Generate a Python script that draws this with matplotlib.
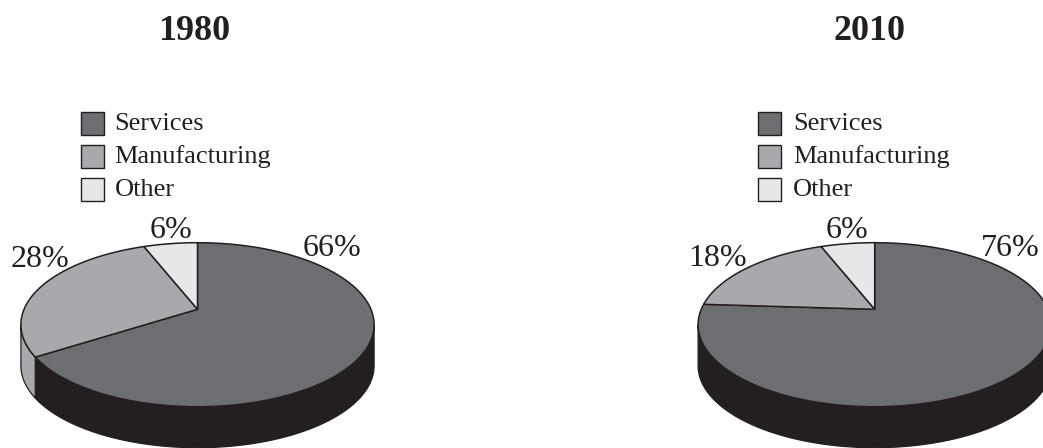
#!/usr/bin/env python3
"""Two tilted pie charts: employment shares, 1980 and 2010."""

import numpy as np
import matplotlib
matplotlib.use("Agg")
import matplotlib.pyplot as plt
from matplotlib.patches import Polygon, Rectangle

# data
years = ["1980", "2010"]
categories = ["Services", "Manufacturing", "Other"]
shares_1980 = [66, 28, 6]
shares_2010 = [76, 18, 6]

TOP_COLORS = ["#6d6e71", "#a7a9ac", "#e6e7e8"]
WALL_COLORS = ["#231f20", "#a7a9ac", "#e6e7e8"]
EDGE = "#231f20"

# pie geometry, in pixels of the 1043x448 picture
RX, RY = 176.6, 82.0
CY = 324.7
APEX_Y = 309.3
DEPTH = 41.0

plt.rcParams["font.family"] = ["Liberation Serif", "DejaVu Serif"]

fig = plt.figure(figsize=(10.43, 4.48), dpi=100)
ax = fig.add_axes([0, 0, 1, 1])
ax.set_xlim(0, 1043)
ax.set_ylim(448, 0)
ax.axis("off")


def rim(cx, t, drop=0.0):
    """Point on the top ellipse; t is in degrees, clockwise from the top."""
    r = np.radians(t)
    return np.column_stack([cx + RX * np.sin(r), CY + drop - RY * np.cos(r)])


def draw_pie(cx, values):
    offset = (CY - APEX_Y) / RY
    # wedge angles are true at the apex, which sits above the ellipse centre
    theta = np.radians(np.cumsum([0] + list(values)) * 3.6)
    edges = np.degrees(theta - np.arcsin(offset * np.sin(theta)))

    # side wall first, only the front half (90..270) shows
    for i in range(len(values)):
        t0, t1 = max(edges[i], 90), min(edges[i + 1], 270)
        if t1 <= t0:
            continue
        t = np.linspace(t0, t1, 150)
        pts = np.vstack([rim(cx, t), rim(cx, t[::-1], DEPTH)])
        ax.add_patch(Polygon(pts, closed=True, facecolor=WALL_COLORS[i], edgecolor=EDGE, linewidth=0.9))

    # top face
    for i in range(len(values)):
        t = np.linspace(edges[i], edges[i + 1], 200)
        pts = np.vstack([[[cx, APEX_Y]], rim(cx, t)])
        ax.add_patch(Polygon(pts, closed=True, facecolor=TOP_COLORS[i], edgecolor=EDGE,
                             linewidth=1.1, joinstyle="miter"))


def draw_legend(x_box, x_text):
    for i, name in enumerate(categories):
        y = 112.5 + 33 * i
        ax.add_patch(Rectangle((x_box, y), 23, 22.5, facecolor=TOP_COLORS[i], edgecolor=EDGE, linewidth=1.0))
        ax.text(x_text, y + 17, name, fontsize=19, color=EDGE, ha="left", va="baseline")


def label(x, y, value):
    ax.text(x, y, f"{value}%", fontsize=23, color=EDGE, ha="center", va="baseline")


# 1980
ax.text(194, 40, years[0], fontsize=26, fontweight="bold", color=EDGE, ha="center", va="baseline")
draw_legend(80.5, 114.5)
draw_pie(197.5, shares_1980)
label(332, 255.7, shares_1980[0])
label(39.5, 266.7, shares_1980[1])
label(170.8, 238, shares_1980[2])

# 2010
ax.text(869.5, 40, years[1], fontsize=26, fontweight="bold", color=EDGE, ha="center", va="baseline")
draw_legend(757.5, 793)
draw_pie(874.7, shares_2010)
label(1010, 255.7, shares_2010[0])
label(717.5, 266.3, shares_2010[1])
label(847.3, 238, shares_2010[2])

fig.savefig("out.png", dpi=100, facecolor="white")
